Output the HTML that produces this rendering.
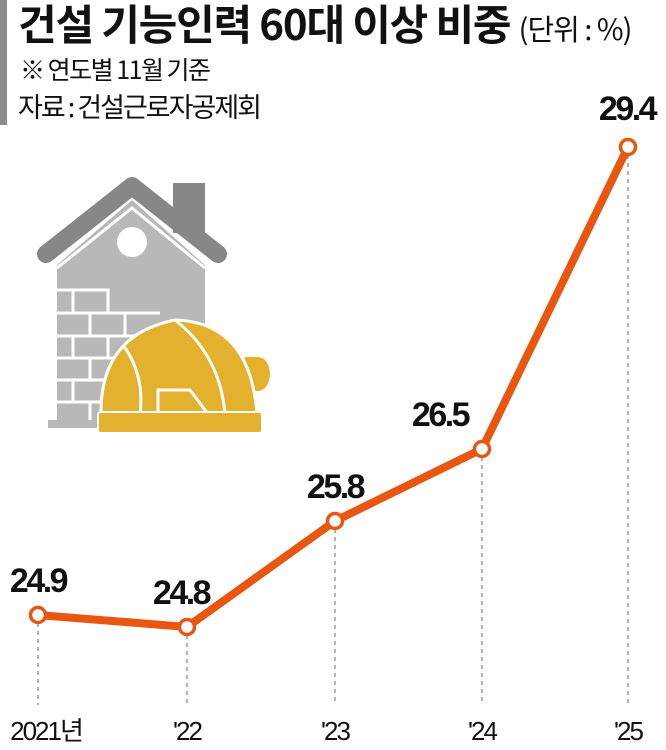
<!DOCTYPE html>
<html><head><meta charset="utf-8"><style>
body{margin:0;background:#fff;width:666px;height:750px;overflow:hidden;position:relative;font-family:"Liberation Sans","Noto Sans CJK KR",sans-serif}
.t{position:absolute;white-space:nowrap;color:#111;transform-origin:0 0}
</style></head><body>
<div style="position:absolute;left:0;top:0;width:7px;height:125px;background:#8a8a8a"></div>
<div class="t" style="left:18px;top:-5px;font-size:42px;font-weight:bold;letter-spacing:-1.2px;font-family:'Noto Sans CJK KR',sans-serif;line-height:56px">건설 기능인력 60대 이상 비중 <span style="font-size:29px;font-weight:normal;letter-spacing:-1px">(단위 : %)</span></div>
<div class="t" style="left:20px;top:52px;font-size:25px;letter-spacing:-1.5px;font-family:'Noto Sans CJK KR',sans-serif;line-height:34px">※ 연도별 11월 기준</div>
<div class="t" style="left:18px;top:88px;font-size:27px;letter-spacing:-2px;font-family:'Noto Sans CJK KR',sans-serif;line-height:36px">자료 : 건설근로자공제회</div>
<svg width="666" height="750" style="position:absolute;left:0;top:0">
<polygon points="57,265 132,200 205,265 205,420 57,420" fill="#b8b8b8"/>
<rect x="173" y="183" width="32" height="50" fill="#878787"/>
<polyline points="46,254 132,186 218,254" fill="none" stroke="#878787" stroke-width="18" stroke-linecap="round" stroke-linejoin="round"/>
<polyline points="57,268 132,208 205,268" fill="none" stroke="#fff" stroke-width="3"/>
<circle cx="132" cy="242" r="15" fill="#fff"/>
<g stroke="#fff" stroke-width="3" fill="none">
<polyline points="57,290 108,290 108,313 160,313"/>
<line x1="57" y1="313" x2="160" y2="313"/>
<line x1="57" y1="336" x2="205" y2="336"/><line x1="57" y1="358" x2="205" y2="358"/><line x1="57" y1="380" x2="205" y2="380"/><line x1="57" y1="402" x2="205" y2="402"/>
<line x1="73" y1="290" x2="73" y2="313"/>
<line x1="90" y1="313" x2="90" y2="336"/><line x1="125" y1="313" x2="125" y2="336"/>
<line x1="73" y1="336" x2="73" y2="358"/><line x1="108" y1="336" x2="108" y2="358"/><line x1="143" y1="336" x2="143" y2="358"/>
<line x1="90" y1="358" x2="90" y2="380"/><line x1="125" y1="358" x2="125" y2="380"/>
<line x1="73" y1="380" x2="73" y2="402"/><line x1="108" y1="380" x2="108" y2="402"/>
<line x1="90" y1="402" x2="90" y2="420"/>
</g>
<rect x="48" y="420" width="60" height="8" fill="#b8b8b8"/>
<path d="M245,357 L258,357 A12,17 0 0 1 258,391 L245,391 Z" fill="#e3b12d"/>
<path d="M101,414 Q100,335 175,320 Q250,322 257,414 Z" fill="#e3b12d" stroke="#fff" stroke-width="3"/>
<path d="M123,345 Q145,375 140,414 M175,320 Q220,355 225,414" stroke="#fff" stroke-width="3" fill="none"/>
<polyline points="158,414 158,390 190,390 208,414" stroke="#fff" stroke-width="3" fill="none"/>
<rect x="98" y="412" width="164" height="21" rx="3" fill="#e3b12d" stroke="#fff" stroke-width="2"/>
<g stroke="#888" stroke-width="1.3" stroke-dasharray="4,4">
<line x1="38" y1="623" x2="38" y2="705"/><line x1="187" y1="635" x2="187" y2="705"/><line x1="335" y1="529" x2="335" y2="705"/><line x1="482" y1="457" x2="482" y2="705"/><line x1="628" y1="155" x2="628" y2="705"/>
</g>
<polyline points="38,615 187,627 335,521 482,449 628,147" fill="none" stroke="#e8560f" stroke-width="8" stroke-linejoin="round"/>
<g fill="#fff" stroke="#e8560f" stroke-width="3.5">
<circle cx="38" cy="615" r="7.5"/><circle cx="187" cy="627" r="7.5"/><circle cx="335" cy="521" r="7.5"/><circle cx="482" cy="449" r="7.5"/><circle cx="628" cy="147" r="7.5"/>
</g>
<g font-family="Liberation Sans, sans-serif" font-weight="bold" font-size="34" fill="#111" text-anchor="middle" letter-spacing="-2.5">
<text x="38" y="592">24.9</text><text x="181" y="604">24.8</text><text x="335" y="498">25.8</text><text x="440" y="426">26.5</text><text x="627" y="120">29.4</text>
</g>
<g font-family="Liberation Sans, Noto Sans CJK KR, sans-serif" font-size="26" fill="#111" text-anchor="middle" letter-spacing="-2">
<text x="46" y="740">2021년</text><text x="187" y="740">'22</text><text x="335" y="740">'23</text><text x="482" y="740">'24</text><text x="628" y="740">'25</text>
</g>
</svg>
</body></html>
